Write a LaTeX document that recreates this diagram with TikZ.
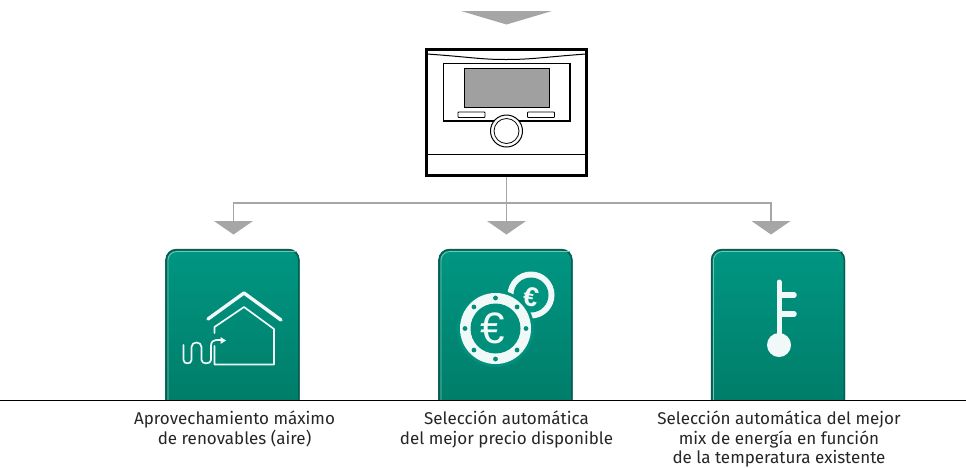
\documentclass[tikz,border=0pt]{standalone}
\usepackage{fontspec}
\setmainfont{Fira Sans}
\newfontfamily\eurofont{Liberation Sans}
\usetikzlibrary{positioning,calc}
\definecolor{flowgray}{RGB}{166,166,166}
\definecolor{screengray}{RGB}{160,160,160}
\definecolor{tealtop}{RGB}{0,150,130}
\definecolor{tealbot}{RGB}{0,124,104}
\definecolor{tealdark}{RGB}{8,92,82}
\definecolor{teallight}{RGB}{120,195,180}
\definecolor{icon}{RGB}{240,249,247}
\tikzset{
  flow/.style={draw=flowgray,line width=1.1pt},
  tip/.style={fill=flowgray,draw=none},
  caption/.style={align=center,font=\fontsize{17}{19.5}\selectfont,text=black!85,inner sep=0pt,anchor=north},
  iconline/.style={draw=icon,line cap=round,line join=round},
  thin part/.style={draw=black,line width=1.1pt},
}
\newcommand{\tealcard}[1]{%
  \path[top color=tealtop,bottom color=tealbot,rounded corners=11pt] (#1-67,410) -- (#1-67,249) -- (#1+67,249) -- (#1+67,410) -- cycle;
  \draw[tealdark,line width=1.6pt,rounded corners=10pt] (#1-66.3,410) -- (#1-66.3,249.7) -- (#1+66.3,249.7) -- (#1+66.3,410);
  \draw[teallight,line width=0.8pt,rounded corners=9pt] (#1-64.6,410) -- (#1-64.6,251.5) -- (#1+64.6,251.5);
}
\begin{document}
\begin{tikzpicture}[x=1pt,y=-1pt]
\useasboundingbox (0,0) rectangle (966,467);

% top arrow
\fill[tip] (461,11) -- (552,11) -- (506.5,24.5) -- cycle;

% connectors
\node[minimum width=159pt,minimum height=125pt,inner sep=0pt,draw=none] (th) at (506,112) {};
\coordinate (junction) at (506.5,203);
\coordinate (left) at (233.5,203);
\coordinate (right) at (771,203);
\coordinate (tipA) at (233.5,222);
\coordinate (tipB) at (506.5,222);
\coordinate (tipC) at (771,222);
\draw[flow] (junction |- th.south) -- (tipB);
\draw[flow] (tipA) -- (left) -- (right) -- (tipC);
\foreach \c in {tipA,tipB,tipC}{
  \fill[tip] ($(\c)+(-19.5,-1)$) -- ($(\c)+(19.5,-1)$) -- ($(\c)+(0,12.5)$) -- cycle;
}

% thermostat
\draw[black,line width=3pt] (426.5,49) rectangle (586.5,175.5);
\draw[thin part,line width=1pt] (427,54) .. controls (470,57) and (480,59.5) .. (506,59.5) .. controls (532,59.5) and (545,57) .. (586,54);
\draw[thin part] (443.5,63.5) rectangle (570,121);
\draw[black,fill=screengray,line width=1pt] (464.5,68.5) rectangle (549,107);
\draw[black,line width=.8pt,rounded corners=.8pt] (458,112) rectangle (485,117.5);
\draw[black,line width=.8pt,rounded corners=.8pt] (527.5,112) rectangle (554.5,117.5);
\draw[black,fill=white,line width=1pt] (506.5,131) circle (16);
\draw[black,line width=.8pt] (506.5,131) circle (12.5);
\draw[thin part] (426,154.5) -- (586,154.5);

% cards
\tealcard{232.5}
\tealcard{505.5}
\tealcard{778}

% white out below baseline
\fill[white] (0,400.5) rectangle (966,467);

% house icon
\draw[iconline,line width=3.4pt] (208,319) -- (244,293) -- (281,320);
\draw[iconline,line width=1.7pt] (214.5,333) -- (214.5,327) -- (244,307) -- (274,329) -- (274,364.5) -- (214.5,364.5) -- (214.5,346);
\draw[iconline,line width=1.7pt] (183.5,345) -- (183.5,360) .. controls (183.5,364.5) and (191.5,364.5) .. (191.5,360) -- (191.5,347) .. controls (191.5,341) and (201.5,341) .. (201.5,347) -- (201.5,360) .. controls (201.5,364.5) and (211,364.5) .. (211,360) -- (211,346) .. controls (211,342) and (213,340) .. (216,340) -- (222,340);
\fill[icon] (226,340.5) -- (220.5,337) -- (220.5,344) -- cycle;

% coins
\fill[icon] (531,295) circle (23.5);
\fill[tealtop!92!tealbot] (531,295) circle (17.5);
\node[text=icon,inner sep=0pt,font=\eurofont\bfseries\fontsize{27}{27}\selectfont,rotate=-12] (euroB) at (531,297) {€};
\fill[tealtop!80!tealbot] (495.5,328.5) circle (38.5);
\fill[icon] (495.5,328.5) circle (35.5);
\fill[tealtop!72!tealbot] (495.5,328.5) circle (25);
\foreach \a in {0,45,...,315}{
  \fill[tealtop!72!tealbot] ($(495.5,328.5)+(\a:30.5)$) circle (2.4);
}
\node[text=icon,inner sep=0pt,font=\eurofont\fontsize{44}{44}\selectfont] (euroA) at (493,328) {€};

% thermometer icon
\draw[iconline,line width=5pt] (779,282) -- (779,345);
\draw[iconline,line width=5.5pt] (780,295) -- (794,295);
\draw[iconline,line width=5.5pt] (780,314) -- (794,314);
\fill[icon] (779,345) circle (12);

% baseline
\draw[black,line width=1pt] (0,400.5) -- (966,400.5);

% captions
\node[caption] (capA) at (234.5,411) {Aprovechamiento máximo\\de renovables (aire)};
\node[caption] (capB) at (506.5,411) {Selección automática\\del mejor precio disponible};
\node[caption] (capC) at (779,411) {Selección automática del mejor\\mix de energía en función\\de la temperatura existente};
\end{tikzpicture}
\end{document}
